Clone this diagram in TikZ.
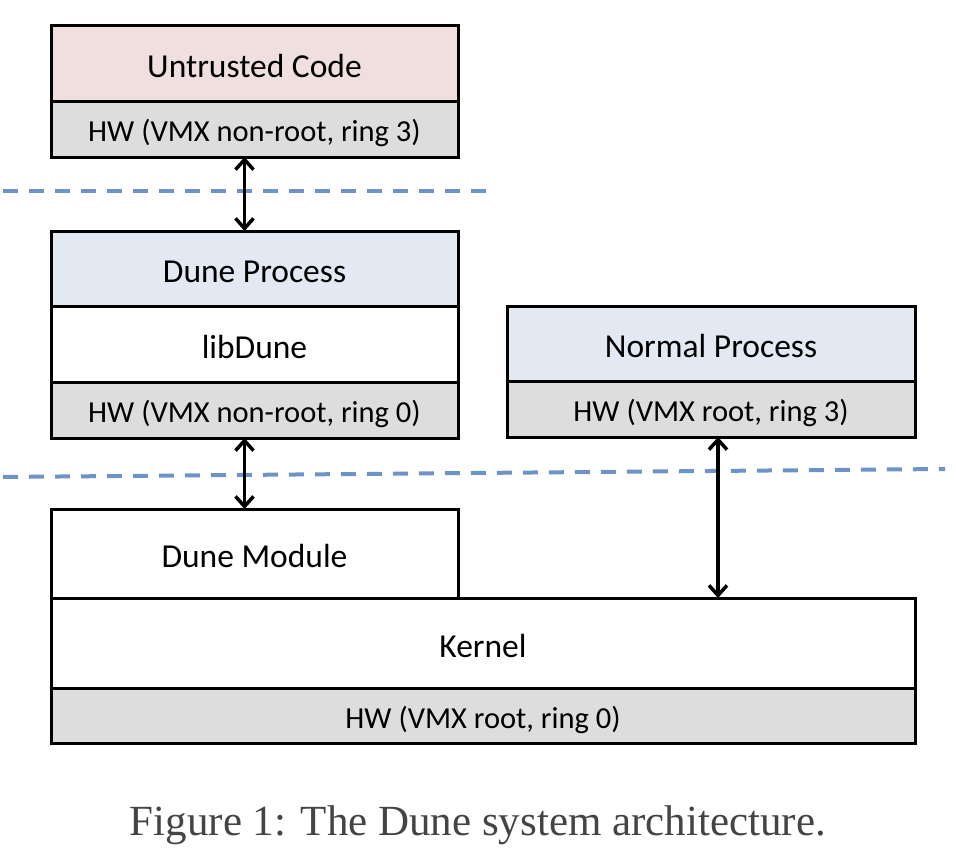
\documentclass[tikz,border=0pt]{standalone}
\usepackage{fontspec}
\setmainfont{Carlito}
\newfontfamily\capfont{Liberation Serif}
\usetikzlibrary{positioning,arrows.meta}
\definecolor{untrustedred}{HTML}{EFDFDF}
\definecolor{processblue}{HTML}{E2E9F3}
\definecolor{hwgray}{HTML}{DDDDDD}
\definecolor{ringblue}{HTML}{6F93C6}
\definecolor{captiongray}{HTML}{444444}

\begin{document}
\begin{tikzpicture}[
        x=1pt, y=-1pt,
        node distance=0pt,
        biarrow/.style={line width=3.5pt, {Straight Barb[length=10pt,width=18pt]}-{Straight Barb[length=10pt,width=18pt]}},
        ringline/.style={line width=4pt, draw=ringblue, dash pattern=on 15pt off 11pt, dash phase=-3pt}
    ]
    %\usetikzlibrary{positioning,arrows.meta}

    \tikzstyle{layer} = [
        draw = black,
        line width = 3pt,
        rectangle,
        outer sep = 0pt,
        inner sep = 0pt,
        anchor = north west,
        align = center,
        text height = 28pt,
        text depth = 0pt,
        font = \fontsize{33.5}{40}\selectfont
    ]
    \tikzstyle{hw} = [
        layer,
        fill = hwgray,
        minimum height = 56pt,
        text height = 25.5pt,
        font = \fontsize{30.5}{36}\selectfont
    ]

    \useasboundingbox (0,0) rectangle (956,862);

    % guest side
    \node [layer, fill=untrustedred, minimum width=407pt, minimum height=76pt] (untrusted) at (51,25) {Untrusted Code};
    \node [hw, minimum width=407pt, below=of untrusted] (hwguest) {HW (VMX non-root, ring 3)};

    \node [layer, fill=processblue, minimum width=407pt, minimum height=75pt] (duneproc) at (51,231) {Dune Process};
    \node [layer, fill=white, minimum width=407pt, minimum height=76pt, below=of duneproc] (libdune) {libDune};
    \node [hw, minimum width=407pt, below=of libdune] (hwdune) {HW (VMX non-root, ring 0)};

    % host side
    \node [layer, fill=processblue, minimum width=408pt, minimum height=75pt] (normalproc) at (507,306) {Normal Process};
    \node [hw, minimum width=408pt, below=of normalproc] (hwnormal) {HW (VMX root, ring 3)};

    \node [layer, fill=white, minimum width=407pt, minimum height=89pt] (dunemod) at (51,509) {Dune Module};
    \node [layer, fill=white, minimum width=864pt, minimum height=90pt] (kernel) at (51,598) {Kernel};
    \node [hw, minimum width=864pt, minimum height=55pt, below=of kernel] (hwkernel) {HW (VMX root, ring 0)};

    % privilege boundaries
    \coordinate (ringA) at (0,191);
    \coordinate (ringB) at (490,191);
    \coordinate (ringC) at (0,477);
    \coordinate (ringD) at (945,469);
    \draw [ringline] (ringA) -- (ringB);
    \draw [ringline] (ringC) -- (ringD);

    \draw [biarrow] ([xshift=-10pt]hwguest.south) -- ([xshift=-10pt]duneproc.north);
    \draw [biarrow] ([xshift=-10pt]hwdune.south) -- ([xshift=-10pt]dunemod.north);
    \draw [biarrow] ([xshift=7pt]hwnormal.south) -- ([xshift=7pt]hwnormal.south |- kernel.north);

    \node [font=\capfont\fontsize{43}{50}\selectfont, text=captiongray] (caption) at (478,825) {Figure 1: The Dune system architecture.};
\end{tikzpicture}
\end{document}
